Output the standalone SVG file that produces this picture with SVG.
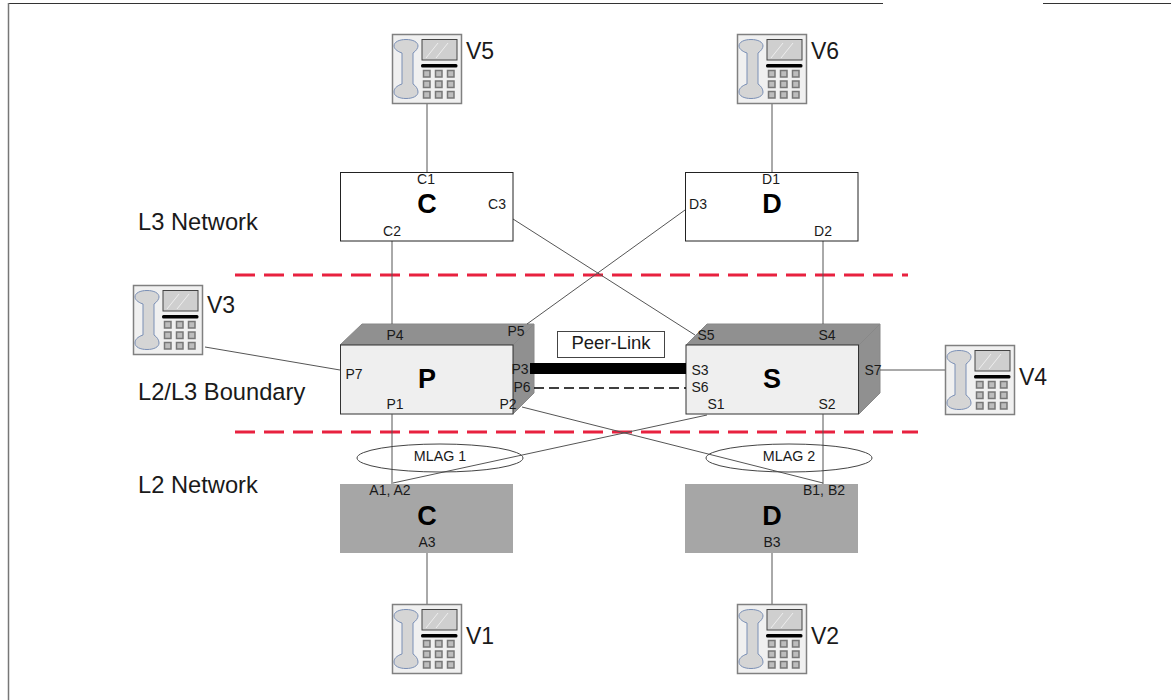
<svg xmlns="http://www.w3.org/2000/svg" width="1171" height="700" viewBox="0 0 1171 700">
<style>
text{font-family:"Liberation Sans",Arial,sans-serif;fill:#1a1a1a}
.port{font-size:14px;text-anchor:middle}
.big{font-size:27px;font-weight:bold;text-anchor:middle;fill:#000}
.zone{font-size:23.700px}
.vname{font-size:23px}
.mlag{font-size:14.300px;text-anchor:middle}
.box{fill:#fff;stroke:#222;stroke-width:1}
.grey{fill:#a6a6a6;stroke:none}
.front{fill:#efefef;stroke:#333;stroke-width:1}
.side{fill:#909090;stroke:#888;stroke-width:1}
.c{stroke:#555;stroke-width:1;fill:none}
.red{stroke:#e8213f;stroke-width:3;stroke-dasharray:20 9;fill:none}
.key{fill:#bdbdbd;stroke:#777;stroke-width:1.500}
</style>
<defs>
<g id="phone">
<rect x="0.500" y="0.500" width="69" height="69" fill="#f0f0f0" stroke="#808080" stroke-width="1.500"/>
<path d="M10 19C4 17 2 14 2 12C2 8 7 5.500 14 5.500C21 5.500 26 8 26 12C26 14 24 17 21 19L21 50C24 52 26 55 26 58C26 62 21 64.500 14 64.500C7 64.500 2 62 2 58C2 55 4 52 10 50Z" fill="#d5d5d5" stroke="#7a8fb5" stroke-width="1"/>
<rect x="30" y="5.500" width="35" height="20.500" fill="#cfcfcf" stroke="#444" stroke-width="1"/>
<path d="M34 24L46 9M44 24L56 9" stroke="#eee" stroke-width="1" fill="none"/>
<rect x="29" y="30" width="36.500" height="3.500" rx="1.500" fill="#000"/>
<rect class="key" x="31.500" y="36.500" width="6.500" height="6.500"/><rect class="key" x="43.500" y="36.500" width="6.500" height="6.500"/><rect class="key" x="55.500" y="36.500" width="6.500" height="6.500"/>
<rect class="key" x="31.500" y="47" width="6.500" height="6.500"/><rect class="key" x="43.500" y="47" width="6.500" height="6.500"/><rect class="key" x="55.500" y="47" width="6.500" height="6.500"/>
<rect class="key" x="31.500" y="57.500" width="6.500" height="6.500"/><rect class="key" x="43.500" y="57.500" width="6.500" height="6.500"/><rect class="key" x="55.500" y="57.500" width="6.500" height="6.500"/>
</g>
</defs>
<rect width="1171" height="700" fill="#fff"/>
<g id="frame">
<path d="M8 3.500H883M1043 3.500H1171" stroke="#333" stroke-width="1" fill="none"/>
<path d="M8.500 3V700" stroke="#777" stroke-width="1.500" fill="none"/>
</g>
<g id="boundaries">
<path class="red" d="M235 275H908"/>
<path class="red" d="M235 432H918"/>
</g>
<g id="node-P">
<path class="side" d="M340 345L362 324H534L513 345Z"/>
<path class="side" d="M513 345L534 324V393L513 414Z"/>
<rect class="front" x="340.500" y="345" width="172.500" height="69"/>
<text class="big" x="427" y="388">P</text>
<text class="port" x="395" y="340">P4</text><text class="port" x="516" y="336">P5</text>
<text class="port" x="354" y="379">P7</text><text class="port" x="520" y="374">P3</text>
<text class="port" x="522" y="392">P6</text><text class="port" x="395" y="409">P1</text><text class="port" x="508" y="409">P2</text>
</g>
<g id="node-S">
<path class="side" d="M686 345L707 324H880L859 345Z"/>
<path class="side" d="M859 345L880 324V393L859 414Z"/>
<rect class="front" x="686" y="345" width="172.500" height="69"/>
<text class="big" x="772" y="388">S</text>
<text class="port" x="706" y="340">S5</text><text class="port" x="827" y="340">S4</text>
<text class="port" x="700" y="375">S3</text><text class="port" x="700" y="392">S6</text>
<text class="port" x="873" y="375">S7</text><text class="port" x="716" y="409">S1</text><text class="port" x="827" y="409">S2</text>
</g>
<g id="connectors">
<path class="c" d="M427 103V172M772 103V172M427 553V604M772 553V604"/>
<path class="c" d="M392 241V324M823 241V324"/>
<path class="c" d="M513 219L695 335M685 210L527 324"/>
<path class="c" d="M205 347L340 370M880 370H945"/>
<path class="c" d="M392 414V484M823 414V484"/>
<path class="c" d="M707 415L393 483M522 407L823 483"/>
<path stroke="#000" stroke-width="11" d="M530 368.500H686" fill="none"/>
<path stroke="#000" stroke-width="1.500" stroke-dasharray="10 5" d="M534 388H686" fill="none"/>
</g>
<g id="node-C-top">
<rect class="box" x="340.500" y="172.500" width="172.500" height="68.500"/>
<text class="big" x="427" y="213">C</text>
<text class="port" x="426" y="184">C1</text><text class="port" x="392" y="236">C2</text><text class="port" x="497" y="209">C3</text>
</g>
<g id="node-D-top">
<rect class="box" x="685.500" y="172.500" width="172.500" height="68.500"/>
<text class="big" x="772" y="213">D</text>
<text class="port" x="771" y="184">D1</text><text class="port" x="698" y="209">D3</text><text class="port" x="823" y="236">D2</text>
</g>
<g id="node-C-bottom">
<rect class="grey" x="340" y="484" width="173" height="69"/>
<text class="big" x="427" y="525">C</text>
<text class="port" x="390" y="495">A1, A2</text><text class="port" x="427" y="547">A3</text>
</g>
<g id="node-D-bottom">
<rect class="grey" x="685" y="484" width="173" height="69"/>
<text class="big" x="772" y="525">D</text>
<text class="port" x="824" y="495">B1, B2</text><text class="port" x="772" y="547">B3</text>
</g>
<g id="mlag-1">
<ellipse cx="440" cy="458" rx="83" ry="14" fill="none" stroke="#444"/>
<text class="mlag" x="440" y="461">MLAG 1</text>
</g>
<g id="mlag-2">
<ellipse cx="789" cy="458" rx="83" ry="14" fill="none" stroke="#444"/>
<text class="mlag" x="789" y="461">MLAG 2</text>
</g>
<g id="peer-link">
<rect x="557.500" y="331.500" width="107" height="26" fill="#fff" stroke="#444"/>
<text x="611" y="349" font-size="18.500" text-anchor="middle">Peer-Link</text>
</g>
<g id="node-V5"><use href="#phone" x="392" y="34"/><text class="vname" x="466" y="59">V5</text></g>
<g id="node-V6"><use href="#phone" x="737" y="34"/><text class="vname" x="811" y="59">V6</text></g>
<g id="node-V3"><use href="#phone" x="133" y="285"/><text class="vname" x="207" y="313">V3</text></g>
<g id="node-V4"><use href="#phone" x="945" y="345"/><text class="vname" x="1019" y="385">V4</text></g>
<g id="node-V1"><use href="#phone" x="392" y="604"/><text class="vname" x="466" y="644">V1</text></g>
<g id="node-V2"><use href="#phone" x="737" y="604"/><text class="vname" x="811" y="644">V2</text></g>
<g id="zones">
<text class="zone" x="138" y="230">L3 Network</text>
<text class="zone" x="138" y="400">L2/L3 Boundary</text>
<text class="zone" x="138" y="493">L2 Network</text>
</g>
</svg>
